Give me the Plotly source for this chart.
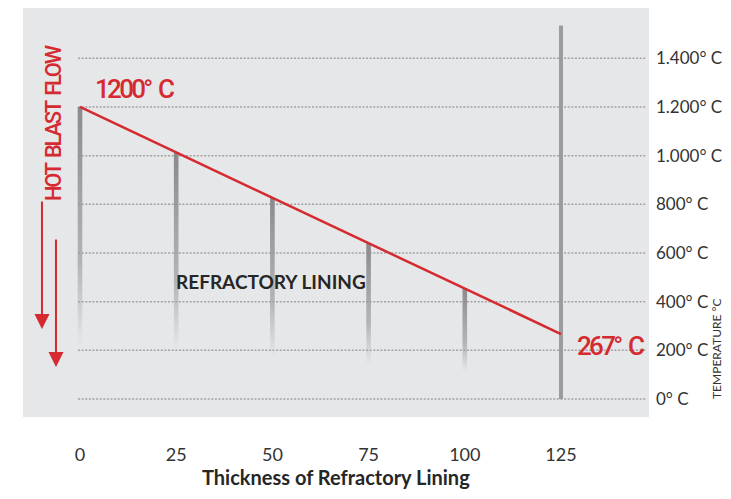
import plotly.graph_objects as go

# ---- data ----
thickness = [0, 25, 50, 75, 100, 125]
temperature = [1200, 1013, 826, 640, 453, 267]

bar_x = [0, 25, 50, 75, 100]
bar_top = [1200, 1013, 826, 640, 453]
bar_bottom = [215, 200, 172, 140, 111]

wall_x = 125
wall_top = 1535

x_ticks = [0, 25, 50, 75, 100, 125]
y_ticks = [0, 200, 400, 600, 800, 1000, 1200, 1400]
y_tick_labels = ["0° C", "200° C", "400° C", "600° C", "800° C", "1.000° C", "1.200° C", "1.400° C"]

start_label = "1200° C"
end_label = "267° C"
flow_label = "HOT BLAST FLOW"

RED = "#d52a30"
GREY_BG = "#e6e7e8"
TXT = "#333333"
NARROW = "Roboto, Noto Sans, sans-serif"
MAIN = "Lato, Open Sans, sans-serif"


def tight(s, ls):
    s = s.replace(" ", "&nbsp;&nbsp;")
    return '<span style="letter-spacing:%spx">%s</span>' % (ls, s)


fig = go.Figure()

# fading refractory bars
hw = 0.6
for bx, bt, bb in zip(bar_x, bar_top, bar_bottom):
    fig.add_trace(go.Scatter(
        x=[bx - hw, bx + hw, bx + hw, bx - hw, bx - hw],
        y=[bb, bb, bt, bt, bb],
        mode="lines", line=dict(width=0), fill="toself",
        fillgradient=dict(type="vertical",
                          colorscale=[[0, "rgba(165,165,168,0)"],
                                      [0.35, "rgba(158,158,161,0.7)"],
                                      [1, "rgba(138,138,141,1)"]]),
        hoverinfo="skip", showlegend=False))

# outer wall
fig.add_trace(go.Scatter(x=[wall_x, wall_x], y=[0, wall_top], mode="lines",
                         line=dict(color="#9c9c9e", width=4),
                         hoverinfo="skip", showlegend=False))

# temperature line
fig.add_trace(go.Scatter(x=thickness, y=temperature, mode="lines",
                         line=dict(color=RED, width=2.5), showlegend=False))

# dotted grid lines
for yv in y_ticks:
    fig.add_shape(type="line", xref="x", yref="y", x0=-0.5, x1=147.3, y0=yv, y1=yv,
                  line=dict(color="#a2a2a4", width=1.5, dash="2px,1.6px"), layer="below")

anns = []
anns.append(dict(x=3.4, y=1274, xref="x", yref="y", text=tight(start_label, -2.7), showarrow=False,
                 xanchor="left", yanchor="middle",
                 font=dict(family=NARROW, size=26, color=RED, weight=500)))
anns.append(dict(x=128.6, y=218, xref="x", yref="y", text=tight(end_label, -2.7), showarrow=False,
                 xanchor="left", yanchor="middle",
                 font=dict(family=NARROW, size=26, color=RED, weight=500)))
anns.append(dict(x=49.6, y=481, xref="x", yref="y", text="<b>REFRACTORY LINING</b>", showarrow=False,
                 xanchor="center", yanchor="middle", font=dict(family=MAIN, size=19, color="#262626")))
anns.append(dict(x=-7.0, y=1134, xref="x", yref="y", text=tight(flow_label, -2.3), showarrow=False,
                 textangle=-90, xanchor="center", yanchor="middle",
                 font=dict(family=NARROW, size=22, color=RED, weight=500)))
anns.append(dict(x=1.107, y=0.1687, xref="paper", yref="paper", text="TEMPERATURE °C", showarrow=False,
                 textangle=-90, xanchor="center", yanchor="middle",
                 font=dict(family=MAIN, size=12, color=TXT)))
anns.append(dict(x=0.5, y=-0.1467, xref="paper", yref="paper", text="<b>Thickness of Refractory Lining</b>",
                 showarrow=False, xanchor="center", yanchor="middle",
                 font=dict(family=MAIN, size=20, color="#262626")))
# flow arrows
anns.append(dict(x=-9.88, y=287.6, xref="x", yref="y", text="", showarrow=True, ax=0, ay=-129,
                 arrowhead=2, arrowsize=1.5, arrowwidth=2, arrowcolor=RED, standoff=0))
anns.append(dict(x=-6.24, y=131.5, xref="x", yref="y", text="", showarrow=True, ax=0, ay=-129,
                 arrowhead=2, arrowsize=1.5, arrowwidth=2, arrowcolor=RED, standoff=0))

fig.update_layout(
    width=715, height=483,
    margin=dict(l=15, r=74, t=0, b=74),
    paper_bgcolor="white", plot_bgcolor=GREY_BG,
    annotations=anns,
    xaxis=dict(range=[-14.81, 147.87], tickvals=x_ticks, showgrid=False, zeroline=False,
               showline=False, ticks="", ticklabelstandoff=25,
               tickfont=dict(family=MAIN, size=18, color=TXT)),
    yaxis=dict(range=[-74, 1606.7], side="right", tickvals=y_ticks, ticktext=y_tick_labels,
               showgrid=False, zeroline=False, showline=False, ticks="", ticklabelstandoff=6,
               tickfont=dict(family=MAIN, size=17, color=TXT)),
)

fig.write_html("out.html")
